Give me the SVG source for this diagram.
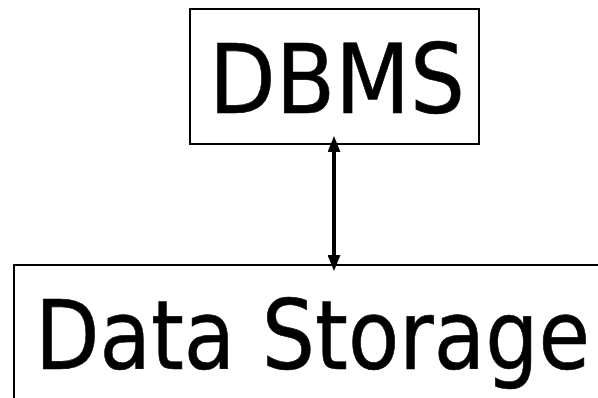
<svg xmlns="http://www.w3.org/2000/svg" width="598" height="398" viewBox="0 0 598 398">
<style>
.box{fill:#fff;stroke:#000;stroke-width:2}
.lbl{font-family:"DejaVu Sans Condensed","DejaVu Sans","Liberation Sans",sans-serif;font-stretch:condensed;font-size:96px;fill:#000;stroke:#000;stroke-width:0.6}
.conn{stroke:#000;stroke-width:4;fill:none}
</style>
<defs>
<marker id="ah" viewBox="0 0 16 13" markerWidth="16" markerHeight="13" refX="1" refY="6.5" orient="auto-start-reverse" markerUnits="userSpaceOnUse">
<path d="M0,0 L16,6.5 L0,13 z" fill="#000"/>
</marker>
</defs>
<rect width="598" height="398" fill="#fff"/>
<g id="node-dbms">
<rect class="box" x="190" y="9" width="289" height="135"/>
<text class="lbl" x="209" y="113" textLength="256" lengthAdjust="spacingAndGlyphs">DBMS</text>
</g>
<g id="node-storage">
<rect class="box" x="14" y="265" width="600" height="150"/>
<text class="lbl" x="35" y="369" textLength="555" lengthAdjust="spacingAndGlyphs">Data Storage</text>
</g>
<g id="connectors">
<path class="conn" d="M334,151 V256" marker-start="url(#ah)" marker-end="url(#ah)"/>
</g>
</svg>
